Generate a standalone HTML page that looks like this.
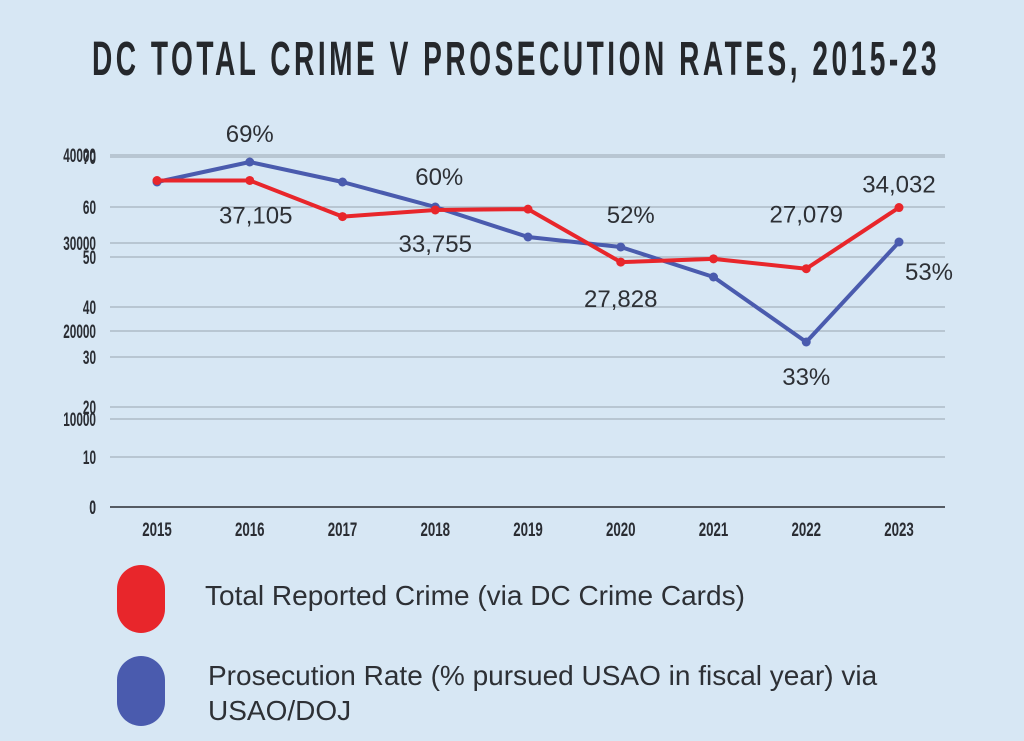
<!DOCTYPE html>
<html><head><meta charset="utf-8">
<style>
html,body{margin:0;padding:0;background:#d7e7f4;}
svg{display:block;}
</style></head>
<body>
<svg id="chart" width="1024" height="741" viewBox="0 0 1024 741" xmlns="http://www.w3.org/2000/svg">
<rect x="0" y="0" width="1024" height="741" fill="#d7e7f4"/>
<text x="92" y="75" textLength="848" lengthAdjust="spacingAndGlyphs" font-family="Liberation Sans, sans-serif" font-weight="bold" font-size="48" letter-spacing="6" fill="#25282c">DC TOTAL CRIME V PROSECUTION RATES, 2015-23</text>
<g id="grid"></g>
<g id="axes"></g>
<g id="series"></g>
<g>
 <rect x="117" y="565" width="48" height="68" rx="24" fill="#e8262b"/>
 <text x="205" y="605" font-family="Liberation Sans, sans-serif" font-size="28" fill="#2d3035">Total Reported Crime (via DC Crime Cards)</text>
 <rect x="117" y="656" width="48" height="70" rx="24" fill="#4a5bae"/>
 <text x="208" y="685" font-family="Liberation Sans, sans-serif" font-size="28" fill="#2d3035">Prosecution Rate (% pursued USAO in fiscal year) via</text>
 <text x="208" y="720" font-family="Liberation Sans, sans-serif" font-size="28" fill="#2d3035">USAO/DOJ</text>
</g>
</svg>
<script>
const years = ['2015','2016','2017','2018','2019','2020','2021','2022','2023'];
const crime = [37100, 37105, 33000, 33755, 33850, 27828, 28200, 27079, 34032];
const prosecution = [65, 69, 65, 60, 54, 52, 46, 33, 53];
const crimeTicks = [0, 10000, 20000, 30000, 40000];
const pctTicks = [0, 10, 20, 30, 40, 50, 60, 70];
const crimeLabels = {1:'37,105',3:'33,755',5:'27,828',7:'27,079',8:'34,032'};
const pctLabels = {1:'69%',3:'60%',5:'52%',7:'33%',8:'53%'};

const NS='http://www.w3.org/2000/svg';
const x0=157, dx=92.75, yBase=507;
const xPos=i=>x0+i*dx;
const yCrime=v=>yBase-v/10000*88;
const yPct=v=>yBase-v/10*50;
function mk(tag,attrs,parent,text){const e=document.createElementNS(NS,tag);for(const k in attrs)e.setAttribute(k,attrs[k]);if(text!==undefined)e.textContent=text;parent.appendChild(e);return e;}
const grid=document.getElementById('grid'), axes=document.getElementById('axes'), series=document.getElementById('series');
const F='Liberation Sans, sans-serif';
const S=0.62;
crimeTicks.forEach(t=>{
 const y=yCrime(t);
 const l=mk('line',{x1:110,x2:945,y1:y,y2:y,stroke:t===0?'#2a2d33':'#9aa6b0','stroke-width':t===0?1.5:1},grid);
 
 
 const tx=mk('text',{x:96,y:y+7,'text-anchor':'end','font-family':F,'font-weight':'bold','font-size':19,fill:'#2a2d33'},axes,String(t));
 tx.setAttribute('transform',`translate(${96-96*S} 0) scale(${S} 1)`);
 
 
});
pctTicks.forEach(t=>{
 const y=yPct(t);
 if(t!==0){const l=mk('line',{x1:110,x2:945,y1:y,y2:y,stroke:'#9aa6b0','stroke-width':1},grid);
 
 }
 const tx=mk('text',{x:96,y:y+7,'text-anchor':'end','font-family':F,'font-weight':'bold','font-size':19,fill:'#2a2d33'},axes,String(t));
 tx.setAttribute('transform',`translate(${96-96*S} 0) scale(${S} 1)`);
 
 
});
years.forEach((yr,i)=>{
 const x=xPos(i);
 const tx=mk('text',{x:x,y:536,'text-anchor':'middle','font-family':F,'font-weight':'bold','font-size':19,fill:'#2a2d33'},axes,yr);
 tx.setAttribute('transform',`translate(${x-x*0.7} 0) scale(0.7 1)`);
 
 
});
function drawSeries(vals,yf,color,name){
 const pts=vals.map((v,i)=>xPos(i)+','+yf(v)).join(' ');
 const pl=mk('polyline',{points:pts,fill:'none',stroke:color,'stroke-width':4,'stroke-linejoin':'round'},series);
 
 
 vals.forEach((v,i)=>{
  const c=mk('circle',{cx:xPos(i),cy:yf(v),r:4.5,fill:color},series);
  
  
 });
}
drawSeries(prosecution,yPct,'#4a5bae','prosecution');
drawSeries(crime,yCrime,'#e8262b','crime');
const crimeOff={1:[6,43],3:[0,42],5:[0,45],7:[0,-46],8:[0,-15]};
const pctOff={1:[0,-20],3:[4,-22],5:[10,-24],7:[0,43],8:[30,38]};
Object.keys(crimeLabels).forEach(k=>{const i=+k;const o=crimeOff[i];
 const t=mk('text',{x:xPos(i)+o[0],y:yCrime(crime[i])+o[1],'text-anchor':'middle','font-family':F,'font-size':24,fill:'#2d3035'},series,crimeLabels[i]);
 
 
});
Object.keys(pctLabels).forEach(k=>{const i=+k;const o=pctOff[i];
 const t=mk('text',{x:xPos(i)+o[0],y:yPct(prosecution[i])+o[1],'text-anchor':'middle','font-family':F,'font-size':24,fill:'#2d3035'},series,pctLabels[i]);
 
 
});
</script>
</body></html>
